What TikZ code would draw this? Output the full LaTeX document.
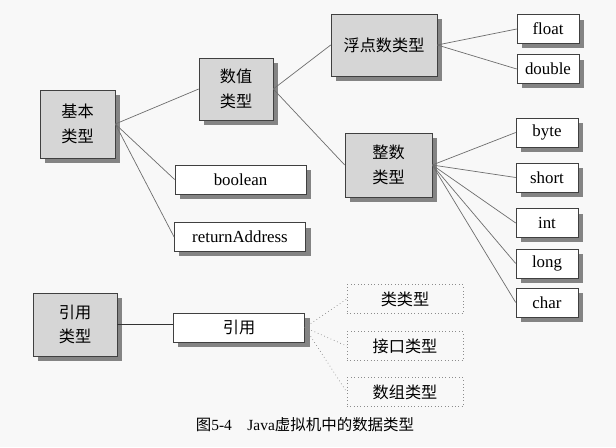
\documentclass[tikz,border=0pt]{standalone}
\usepackage{fontspec}
\setmainfont{Liberation Serif}
\newfontfamily\cjk{Noto Sans CJK SC}
\usetikzlibrary{shadows}
\definecolor{boxgray}{HTML}{D6D6D6}
\definecolor{shadowgray}{HTML}{848484}
\definecolor{linegray}{HTML}{6E6E6E}
\definecolor{papergray}{HTML}{F8F8F8}
\newcommand{\hanfont}{\cjk\fontsize{11.5}{17.5}\selectfont}
\newcommand{\latfont}{\fontsize{12}{17.5}\selectfont}

\begin{document}
\begin{tikzpicture}[
      x=0.025cm, y=-0.025cm,
      every node/.style={font=\latfont, inner sep=0pt, align=center},
      boxshadow/.style={drop shadow={shadow xshift=3.5pt, shadow yshift=-3.5pt,
                        fill=shadowgray, opacity=1}},
      kind/.style={draw=black!75, fill=boxgray, font=\hanfont, boxshadow},
      leaf/.style={draw=black!75, fill=white, boxshadow,
                   minimum width=1.55cm, minimum height=0.72cm},
      wide/.style={draw=black!75, fill=white, boxshadow,
                   minimum width=3.28cm, minimum height=0.72cm},
      reftype/.style={draw=black!45, dotted, fill=papergray, font=\hanfont,
                      minimum width=2.9cm, minimum height=0.72cm},
      link/.style={draw=linegray, line width=0.5pt},
    ]
    \fill[papergray] (0,0) rectangle (616,447);
    \useasboundingbox (0,0) rectangle (616,447);

    \node[kind, minimum width=1.875cm, minimum height=1.7cm]  (jiben)    at (77.5,124) {基本\\类型};
    \node[kind, minimum width=1.85cm,  minimum height=1.55cm]  (shuzhi)   at (236,89)   {数值\\类型};
    \node[kind, minimum width=2.65cm,  minimum height=1.55cm]  (fudian)   at (384,45)   {浮点数类型};
    \node[kind, minimum width=2.175cm, minimum height=1.6cm]   (zhengshu) at (388.5,165) {整数\\类型};
    \node[kind, minimum width=2.1cm,   minimum height=1.575cm] (yinyongt) at (75,324.5) {引用\\类型};

    \node[wide] (boolean) at (240.5,179.5) {boolean};
    \node[wide] (retaddr) at (240,237)     {returnAddress};
    \node[wide, font=\hanfont] (yinyong) at (239,327.5) {引用};

    \node[leaf] (float)  at (548,29)    {float};
    \node[leaf] (double) at (548,69)    {double};
    \node[leaf] (byte)   at (547,132.5) {byte};
    \node[leaf] (short)  at (547,177.5) {short};
    \node[leaf] (int)    at (547,223)   {int};
    \node[leaf] (long)   at (547,263.5) {long};
    \node[leaf] (char)   at (547,302.5) {char};

    \node[reftype] (lei)    at (405,299) {类类型};
    \node[reftype] (jiekou) at (405,346) {接口类型};
    \node[reftype] (shuzu)  at (405,392) {数组类型};

    \node[font=\fontsize{11}{13}\selectfont] (caption) at (305,425)
      {{\cjk 图}5-4\quad Java{\cjk 虚拟机中的数据类型}};

    \draw[link] (jiben.east) -- (shuzhi.west);
    \draw[link] (jiben.east) -- (boolean.west);
    \draw[link] (jiben.east) -- (retaddr.west);
    \draw[link] (shuzhi.east) -- (fudian.west);
    \draw[link] (shuzhi.east) -- (zhengshu.west);
    \foreach \t in {float, double}
      \draw[link] (fudian.east) -- (\t.west);
    \foreach \t in {byte, short, int, long, char}
      \draw[link] (zhengshu.east) -- (\t.west);
    \draw[link, draw=black!80] (yinyongt.east) -- (yinyongt.east -| yinyong.west);
    \foreach \t in {lei, jiekou, shuzu}
      \draw[link, draw=black!45, dotted] (yinyong.east) -- (\t.west);
  \end{tikzpicture}
\end{document}
